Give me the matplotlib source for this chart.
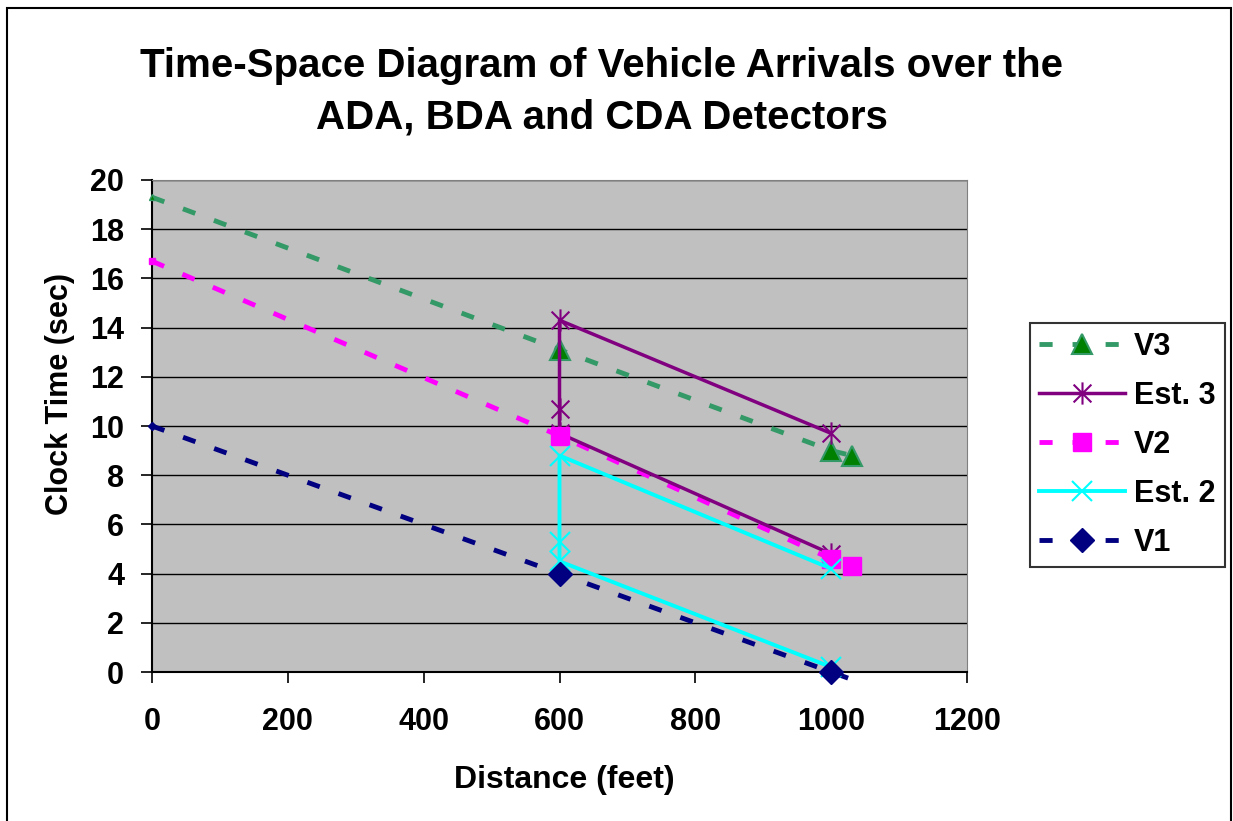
import numpy as np
import matplotlib
matplotlib.use("Agg")
import matplotlib.pyplot as plt
from matplotlib.path import Path
from matplotlib.patches import Rectangle

plt.rcParams['font.family'] = ['Liberation Sans', 'DejaVu Sans']
plt.rcParams['font.weight'] = 'bold'

# data (distance in feet, clock time in sec)
v3_x = [0, 600, 1000, 1030]
v3_y = [19.3, 13.1, 9.0, 8.8]
est3_x = [1000, 600, 600, 600, 1000]
est3_y = [4.8, 9.7, 10.7, 14.3, 9.7]
v2_x = [0, 600, 1000, 1030]
v2_y = [16.7, 9.6, 4.6, 4.3]
est2_x = [1000, 600, 600, 600, 1000]
est2_y = [0.2, 4.5, 5.3, 8.8, 4.2]
v1_x = [0, 600, 1000, 1030]
v1_y = [10.0, 4.0, 0.0, -0.3]

x_ticks = [0, 200, 400, 600, 800, 1000, 1200]
y_ticks = [0, 2, 4, 6, 8, 10, 12, 14, 16, 18, 20]

# Excel style star marker: an x with a vertical stroke
star = Path([(-1, -1), (1, 1), (-1, 1), (1, -1), (0, -1.25), (0, 1.25)],
            [Path.MOVETO, Path.LINETO, Path.MOVETO, Path.LINETO, Path.MOVETO, Path.LINETO])

fig = plt.figure(figsize=(12.33, 8.21), dpi=100)
fig.patches.append(Rectangle((7 / 1233, -0.05), 1224 / 1233, 1.05 - 8 / 821,
                             transform=fig.transFigure, fill=False,
                             edgecolor='black', linewidth=1.5))
ax = fig.add_axes([152 / 1233, 1 - 672 / 821, 815 / 1233, 492 / 821])
ax.set_facecolor('#C0C0C0')

dash = (0, (2.7, 4.1))
lw_d = 3.5
l_v3, = ax.plot(v3_x, v3_y, color='#339966', lw=lw_d, ls=dash, clip_on=False, zorder=3)
m_v3, = ax.plot(v3_x[1:], v3_y[1:], ls='none', marker='^', ms=15,
                mfc='#008000', mec='#339966', mew=1.5, clip_on=False, zorder=4)
ax.plot(v3_x[:1], v3_y[:1], ls='none', marker='^', ms=5, mfc='#008000',
        mec='#339966', clip_on=False, zorder=4)

l_e3, = ax.plot(est3_x, est3_y, color='#800080', lw=2.5, marker=star, ms=16,
                mew=1.5, mec='#800080', mfc='none', clip_on=False, zorder=5)

l_v2, = ax.plot(v2_x, v2_y, color='#FF00FF', lw=lw_d, ls=dash, clip_on=False, zorder=3)
m_v2, = ax.plot(v2_x[1:], v2_y[1:], ls='none', marker='s', ms=13,
                mfc='#FF00FF', mec='#FF00FF', clip_on=False, zorder=6)
ax.plot(v2_x[:1], v2_y[:1], ls='none', marker='s', ms=4, mfc='#FF00FF',
        mec='#FF00FF', clip_on=False, zorder=6)

l_e2, = ax.plot(est2_x, est2_y, color='#00FFFF', lw=2.8, marker='x', ms=15,
                mew=1.5, mec='#00FFFF', clip_on=False, zorder=7)

l_v1, = ax.plot(v1_x, v1_y, color='#000080', lw=lw_d, ls=dash, clip_on=False, zorder=3)
m_v1, = ax.plot(v1_x[1:3], v1_y[1:3], ls='none', marker='D', ms=12,
                mfc='#000080', mec='#000080', clip_on=False, zorder=8)
ax.plot(v1_x[:1], v1_y[:1], ls='none', marker='D', ms=4, mfc='#000080',
        mec='#000080', clip_on=False, zorder=8)

ax.set_xlim(0, 1200)
ax.set_ylim(0, 20)
ax.set_xticks(x_ticks)
ax.set_yticks(y_ticks)
ax.yaxis.grid(True, color='black', lw=1)
ax.set_axisbelow(True)
ax.tick_params(axis='both', direction='out', length=8, width=1.2, labelsize=22, color='black')
ax.tick_params(axis='x', pad=17)
ax.tick_params(axis='y', pad=12)
for s in ['top', 'right']:
    ax.spines[s].set_color('#808080')
for s in ['left', 'bottom']:
    ax.spines[s].set_color('black')
    ax.spines[s].set_linewidth(1.5)

ax.set_xlabel('Distance (feet)', fontsize=23, fontweight='bold')
ax.set_ylabel('Clock Time (sec)', fontsize=22, fontweight='bold')
ax.yaxis.set_label_coords(-0.094, 0.565)
ax.xaxis.set_label_coords(0.506, -0.19)
fig.text(0.488, 0.888, 'Time-Space Diagram of Vehicle Arrivals over the\nADA, BDA and CDA Detectors',
         ha='center', va='center', fontsize=29, fontweight='bold', linespacing=1.46)

handles = [(l_v3, m_v3), l_e3, (l_v2, m_v2), l_e2, (l_v1, m_v1)]
labels = ['V3', 'Est. 3', 'V2', 'Est. 2', 'V1']
leg = fig.legend(handles, labels, loc='upper left',
                 bbox_to_anchor=(1030 / 1233, 1 - 323 / 821),
                 fontsize=22, frameon=True, fancybox=False, edgecolor='black',
                 handlelength=2.8, labelspacing=0.62, borderpad=0.3,
                 handletextpad=0.3, borderaxespad=0)
leg.get_frame().set_linewidth(1.5)

fig.savefig('out.png', dpi=100)
